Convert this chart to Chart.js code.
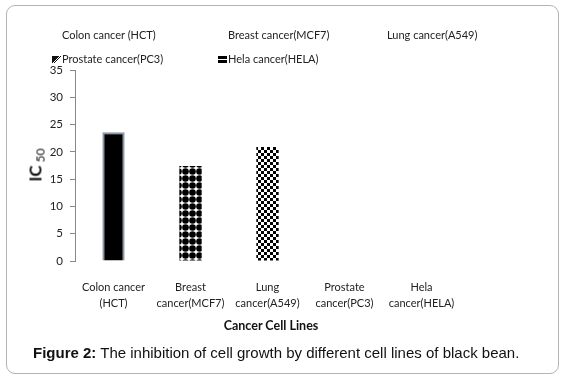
<!DOCTYPE html>
<html>
<head>
<meta charset="utf-8">
<script src="https://cdn.jsdelivr.net/npm/chart.js@4.4.0/dist/chart.umd.min.js"></script>
<style>
  html, body { margin: 0; padding: 0; background: #fff; }
  #wrap { position: relative; width: 566px; height: 379px; overflow: hidden; font-family: Lato, "Open Sans", sans-serif; }
  #frame { position: absolute; left: 6px; top: 5px; width: 551px; height: 367px; border: 1px solid #b4b4b4; border-radius: 9px; }
  #chart { position: absolute; left: 0; top: 0; }
  .leg { position: absolute; font-size: 11px; color: #222; white-space: nowrap; line-height: 14px; }
  .leg i { display: inline-block; width: 9px; height: 7px; margin-right: 1px; vertical-align: 0px; }
  #ytitle { position: absolute; left: 36px; top: 165px; transform: translate(-50%, -50%) rotate(-90deg); font-weight: bold; font-size: 17px; color: #111; white-space: nowrap; }
  #ytitle sub { font-size: 12px; font-weight: normal; vertical-align: -3px; margin-left: 3px; }
  #xtitle { position: absolute; left: 271px; top: 325px; transform: translate(-50%, -50%); font-weight: bold; font-size: 12.5px; color: #111; }
  #caption { position: absolute; left: 33px; top: 344px; font-family: "Liberation Sans", Arial, sans-serif; font-size: 15px; color: #111; white-space: nowrap; }
</style>
</head>
<body>
<div id="wrap">
  <div id="frame"></div>
  <canvas id="chart" width="566" height="379"></canvas>
  <div id="legend"></div>
  <div id="ytitle">IC<sub>50</sub></div>
  <div id="xtitle">Cancer Cell Lines</div>
  <div id="caption"><b>Figure 2:</b> The inhibition of cell growth by different cell lines of black bean.</div>
</div>
<script>
// categories on the x axis (two lines each)
const categories = [
  ['Colon cancer', '(HCT)'],
  ['Breast', 'cancer(MCF7)'],
  ['Lung', 'cancer(A549)'],
  ['Prostate', 'cancer(PC3)'],
  ['Hela', 'cancer(HELA)']
];
// IC50 values (no bar for prostate / hela)
const ic50 = [23.6, 17.4, 20.9, null, null];
const legendLabels = ['Colon cancer (HCT)', 'Breast cancer(MCF7)', 'Lung cancer(A549)', 'Prostate cancer(PC3)', 'Hela cancer(HELA)'];
const yMin = 0, yMax = 35, yStep = 5;

// -- fill patterns --
function makePattern(w, h, draw) {
  const c = document.createElement('canvas');
  c.width = w; c.height = h;
  const g = c.getContext('2d');
  g.fillStyle = '#fff';
  g.fillRect(0, 0, w, h);
  g.fillStyle = '#000';
  draw(g);
  return document.getElementById('chart').getContext('2d').createPattern(c, 'repeat');
}
const dots = makePattern(7, 7, g => {
  g.beginPath(); g.arc(3.5, 3.5, 3.3, 0, Math.PI * 2); g.fill();
});
const checker = makePattern(6, 6, g => {
  g.fillRect(0, 0, 3, 3); g.fillRect(3, 3, 3, 3);
});

// -- legend (html) --
const legPos = [[52, 28], [218, 28], [377, 28], [52, 52], [218, 52]];
const legMarks = ['none', 'none', 'none',
  'linear-gradient(135deg, #111 0 45%, #fff 45% 55%, #111 55% 60%, transparent 60%)',
  'linear-gradient(#000 0 40%, #fff 40% 60%, #000 60% 100%)'];
const legEl = document.getElementById('legend');
legendLabels.forEach((txt, i) => {
  const d = document.createElement('div');
  d.className = 'leg';
  d.style.left = legPos[i][0] + 'px';
  d.style.top = legPos[i][1] + 'px';
  d.innerHTML = '<i style="background:' + legMarks[i] + '"></i>' + txt;
  legEl.appendChild(d);
});

new Chart(document.getElementById('chart'), {
  type: 'bar',
  data: {
    labels: categories,
    datasets: [{
      data: ic50,
      backgroundColor: ['#000', dots, checker, '#000', '#000'],
      borderColor: ['#8497b0', 'rgba(0,0,0,0)', 'rgba(0,0,0,0)', '#000', '#000'],
      borderWidth: [2, 0, 0, 0, 0],
      categoryPercentage: 1,
      barPercentage: 0.29
    }]
  },
  options: {
    responsive: false,
    animation: false,
    layout: { padding: { left: 0, top: 70, right: 106, bottom: 0 } },
    plugins: { legend: { display: false }, tooltip: { enabled: false } },
    scales: {
      x: {
        grid: { display: false },
        border: { display: false },
        ticks: { color: '#222', font: { family: 'Lato', size: 11, lineHeight: 1.5 }, padding: 10, maxRotation: 0, autoSkip: false },
        afterFit: s => { s.height = 118; }
      },
      y: {
        min: yMin, max: yMax,
        grid: { drawOnChartArea: false, drawTicks: true, tickLength: 5, color: '#888' },
        border: { color: '#888' },
        ticks: { stepSize: yStep, color: '#222', font: { family: 'Lato', size: 11.5 }, padding: 7 },
        afterFit: s => { s.width = 75; }
      }
    }
  }
});
</script>
</body>
</html>
